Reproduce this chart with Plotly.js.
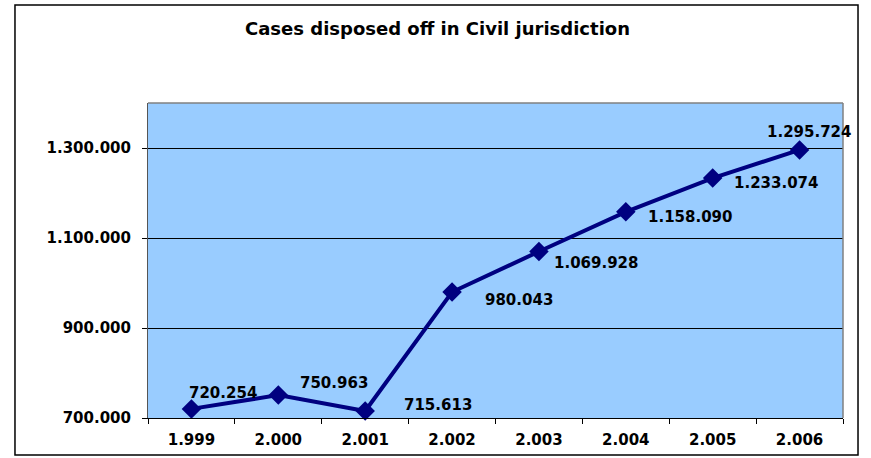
<!DOCTYPE html>
<html>
<head>
<meta charset="utf-8">
<script src="https://cdn.plot.ly/plotly-3.0.1.min.js"></script>
<style>html,body{margin:0;padding:0;background:#fff;}#chart{width:871px;height:458px;}</style>
</head>
<body>
<div id="chart"></div>
<script>
const years = ["1.999", "2.000", "2.001", "2.002", "2.003", "2.004", "2.005", "2.006"];
const cases = [720254, 750963, 715613, 980043, 1069928, 1158090, 1233074, 1295724];
const labels = ["720.254", "750.963", "715.613", "980.043", "1.069.928", "1.158.090", "1.233.074", "1.295.724"];
const yTickVals = [700000, 900000, 1100000, 1300000];
const yTickText = ["700.000", "900.000", "1.100.000", "1.300.000"];

// label offsets in pixels (style only)
const labelShift = [[32, 16], [56, 12], [73, 6], [67, -8], [57, -11], [64, -5], [63, -5], [9, 18]];

const font = "DejaVu Sans, Arial, sans-serif";

const trace = {
  x: years,
  y: cases,
  type: "scatter",
  mode: "lines+markers",
  line: {color: "#000080", width: 4},
  marker: {symbol: "diamond", size: 15, color: "#000080"},
  hoverinfo: "skip",
  cliponaxis: false
};

// category index used as annotation x (numeric-looking category names would be misread)
const annotations = cases.map((v, i) => ({
  x: i, y: v, xref: "x", yref: "y",
  text: labels[i], showarrow: false,
  xshift: labelShift[i][0], yshift: labelShift[i][1],
  font: {family: font, size: 15, color: "#000", weight: "bold"}
}));

const layout = {
  width: 871, height: 458,
  margin: {l: 148, r: 28, t: 103, b: 40},
  paper_bgcolor: "#ffffff",
  plot_bgcolor: "#99CCFF",
  showlegend: false,
  title: {
    text: "<b>Cases disposed off in Civil jurisdiction</b>",
    font: {family: font, size: 18, color: "#000"},
    x: 437.5 / 871, xanchor: "center", xref: "container",
    y: 1 - 29 / 458, yanchor: "middle", yref: "container"
  },
  xaxis: {
    type: "category",
    range: [-0.5, 7.5],
    fixedrange: true,
    showgrid: false,
    zeroline: false,
    showline: true, linecolor: "#000", linewidth: 1,
    ticks: "outside", ticklen: 5, tickcolor: "#000", tickwidth: 1,
    tickson: "boundaries",
    ticklabelstandoff: 8,
    tickfont: {family: font, size: 15, color: "#000", weight: "bold"}
  },
  yaxis: {
    range: [700000, 1400000],
    fixedrange: true,
    tickvals: yTickVals,
    ticktext: yTickText,
    showgrid: true, gridcolor: "#000", gridwidth: 1,
    zeroline: false,
    showline: true, linecolor: "#555", linewidth: 1,
    ticks: "outside", ticklen: 5, tickcolor: "#000", tickwidth: 1,
    ticklabelstandoff: 8,
    tickfont: {family: font, size: 15, color: "#000", weight: "bold"}
  },
  shapes: [
    {type: "line", xref: "paper", yref: "paper", x0: 0, x1: 1, y0: 1, y1: 1, line: {color: "#808080", width: 1.5}},
    {type: "line", xref: "paper", yref: "paper", x0: 1, x1: 1, y0: 0, y1: 1, line: {color: "#808080", width: 1.5}},
    {type: "rect", xref: "paper", yref: "paper", x0: -0.1914, x1: 1.0216, y0: -0.1175, y1: 1.3111, line: {color: "#000", width: 1.5}, fillcolor: "rgba(0,0,0,0)", layer: "below"}
  ],
  annotations: annotations
};

Plotly.newPlot("chart", [trace], layout, {displayModeBar: false, staticPlot: true});
</script>
</body>
</html>
